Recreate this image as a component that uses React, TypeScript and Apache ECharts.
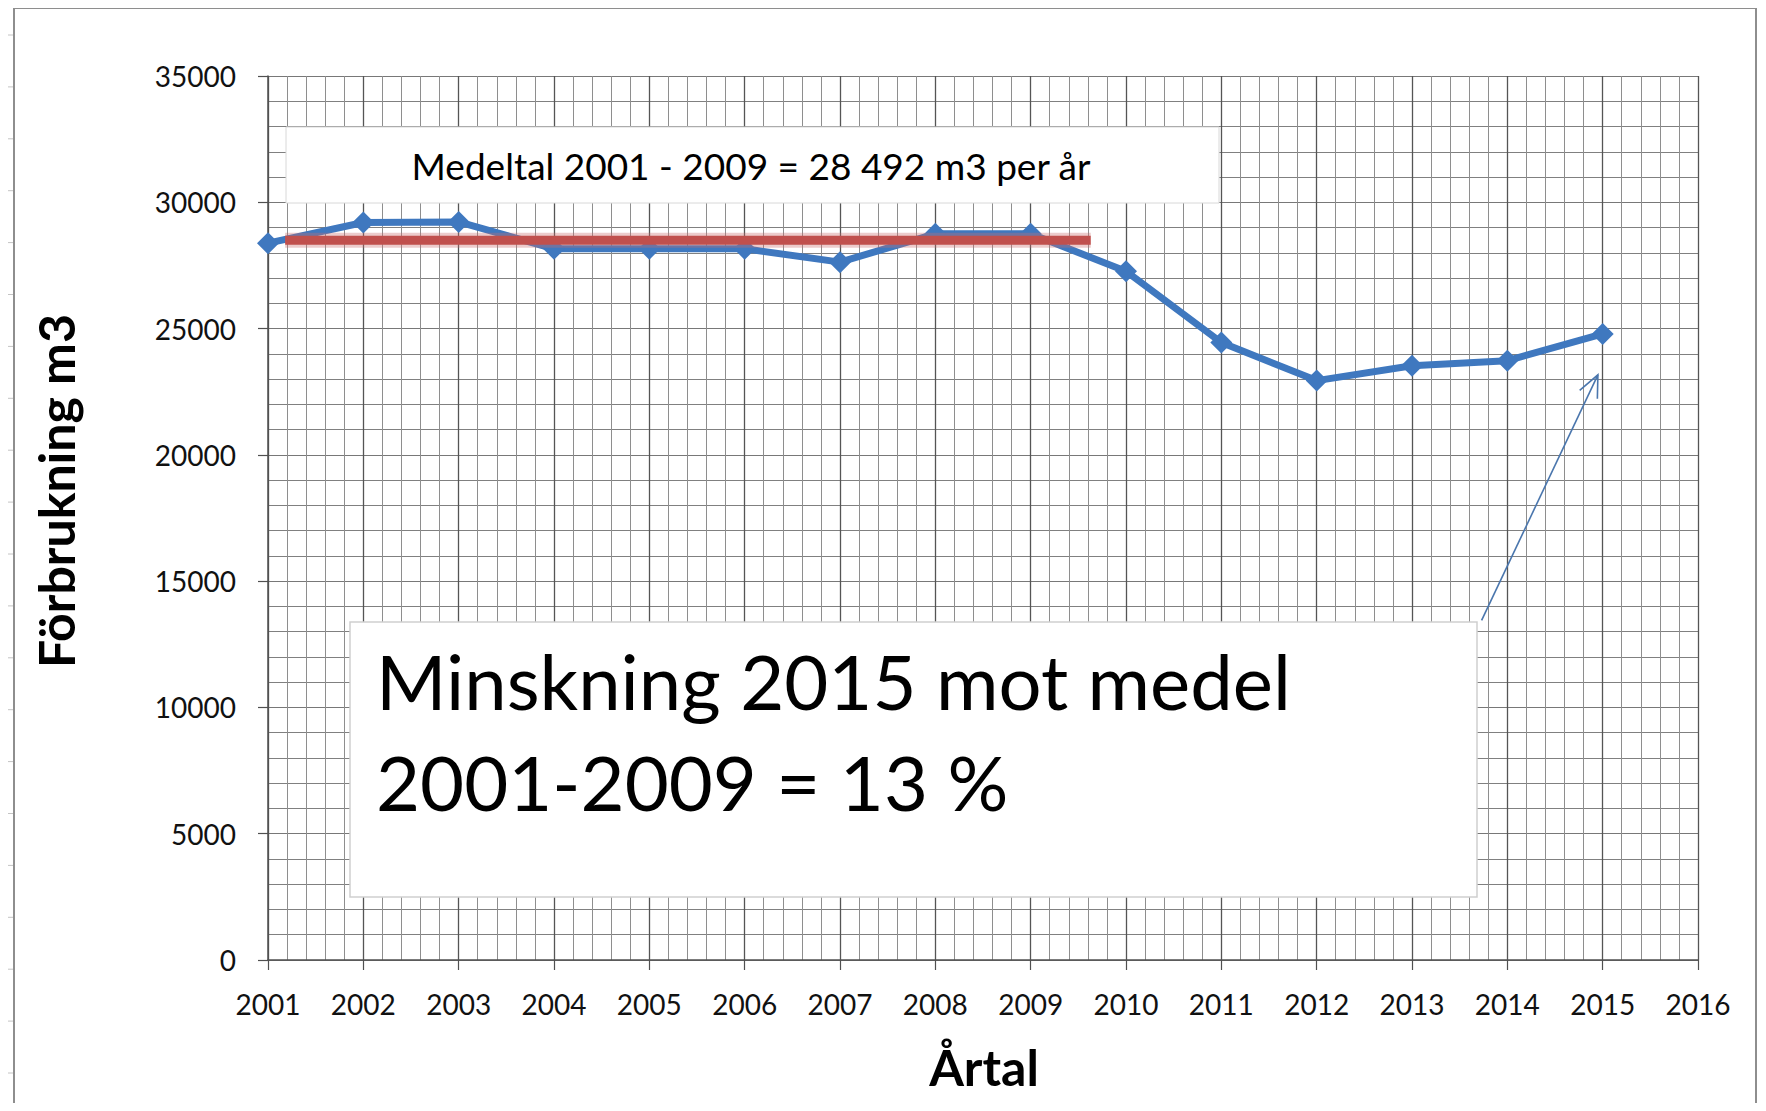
import React, { useEffect, useRef } from "react";
import * as echarts from "echarts";

const years = [2001, 2002, 2003, 2004, 2005, 2006, 2007, 2008, 2009, 2010, 2011, 2012, 2013, 2014, 2015];
const consumption = [28380, 29200, 29220, 28160, 28160, 28160, 27630, 28750, 28750, 27270, 24450, 22940, 23530, 23730, 24790];
const meanValue = 28492;
const meanStartYear = 2001.18;
const meanEndYear = 2009.63;
const arrowFrom = [2013.73, 13450];
const arrowTo = [2014.95, 23170];
const xMin = 2001;
const xMax = 2016;
const yMin = 0;
const yMax = 35000;
const yStep = 5000;

const meanText = "Medeltal 2001 - 2009 = 28 492 m3 per år";
const bigTextLines = ["Minskning 2015 mot medel", "2001-2009 = 13 %"];
const yTitle = "Förbrukning m3";
const xTitle = "Årtal";

const FONT = "Lato, 'Open Sans', sans-serif";

export default function App() {
  const ref = useRef<HTMLDivElement>(null);
  useEffect(() => {
    if (!ref.current) return;
    const chart = echarts.init(ref.current, null, { renderer: "svg" });

    const frame: any[] = [];
    for (let k = 0; k < 11; k++) {
      const x = 122 + k * 165.4;
      frame.push({ type: "line", shape: { x1: x, y1: 0, x2: x, y2: 8 }, style: { stroke: "#c4c4c4", lineWidth: 1 }, z: 1 });
    }
    for (let k = 0; k < 22; k++) {
      const y = 35 + k * 51.9;
      frame.push({ type: "line", shape: { x1: 0, y1: y, x2: 13, y2: y }, style: { stroke: "#c4c4c4", lineWidth: 1 }, z: 1 });
      frame.push({ type: "line", shape: { x1: 1758, y1: y, x2: 1766, y2: y }, style: { stroke: "#c4c4c4", lineWidth: 1 }, z: 1 });
    }
    frame.push({
      type: "rect",
      shape: { x: 14, y: 8, width: 1742, height: 1120 },
      style: { fill: "none", stroke: "#8e8e8e", lineWidth: 2 },
      z: 1,
    });

    const texts: any[] = [
      {
        type: "rect",
        shape: { x: 286, y: 127, width: 933, height: 76 },
        style: { fill: "#ffffff", stroke: "#d8d8d8", lineWidth: 1 },
        z: 50,
      },
      {
        type: "text",
        x: 751,
        y: 165,
        style: { text: meanText, font: `37px ${FONT}`, fill: "#000", textAlign: "center", textVerticalAlign: "middle" },
        z: 51,
      },
      {
        type: "rect",
        shape: { x: 350, y: 622, width: 1127, height: 275 },
        style: { fill: "#ffffff", stroke: "#cfcfcf", lineWidth: 1.5 },
        z: 50,
      },
      {
        type: "text",
        x: 376,
        y: 680,
        style: { text: bigTextLines[0], font: `76px ${FONT}`, fill: "#000", textAlign: "left", textVerticalAlign: "middle" },
        z: 51,
      },
      {
        type: "text",
        x: 376,
        y: 781,
        style: { text: bigTextLines[1], font: `76px ${FONT}`, fill: "#000", textAlign: "left", textVerticalAlign: "middle" },
        z: 51,
      },
      {
        type: "text",
        x: 56,
        y: 491,
        rotation: Math.PI / 2,
        style: { text: yTitle, font: `bold 50px ${FONT}`, fill: "#000", textAlign: "center", textVerticalAlign: "middle" },
        z: 51,
      },
      {
        type: "text",
        x: 984,
        y: 1067,
        style: { text: xTitle, font: `bold 50px ${FONT}`, fill: "#000", textAlign: "center", textVerticalAlign: "middle" },
        z: 51,
      },
    ];

    const option: any = {
      animation: false,
      backgroundColor: "#ffffff",
      grid: { left: 268, right: 68, top: 76, bottom: 151, containLabel: false },
      xAxis: {
        type: "value",
        min: xMin,
        max: xMax,
        interval: 1,
        axisLine: { show: true, lineStyle: { color: "#505050", width: 1.5 } },
        axisTick: { show: true, length: 10, lineStyle: { color: "#505050", width: 1.2 } },
        axisLabel: { fontFamily: FONT, fontSize: 28, color: "#111", margin: 30, formatter: (v: number) => String(v) },
        splitLine: { show: true, lineStyle: { color: "#555555", width: 1.3 } },
        minorTick: { show: false, splitNumber: 5 },
        minorSplitLine: { show: true, lineStyle: { color: "#8e8e8e", width: 1 } },
      },
      yAxis: {
        type: "value",
        min: yMin,
        max: yMax,
        interval: yStep,
        axisLine: { show: true, lineStyle: { color: "#505050", width: 1.5 } },
        axisTick: { show: true, length: 10, lineStyle: { color: "#505050", width: 1.2 } },
        axisLabel: { fontFamily: FONT, fontSize: 28, color: "#111", margin: 32, formatter: (v: number) => String(v) },
        splitLine: { show: true, lineStyle: { color: "#787878", width: 1.2 } },
        minorTick: { show: false, splitNumber: 5 },
        minorSplitLine: { show: true, lineStyle: { color: "#808080", width: 1.1 } },
      },
      series: [
        {
          type: "line",
          name: "Förbrukning",
          data: years.map((y, i) => [y, consumption[i]]),
          symbol: "diamond",
          symbolSize: 22,
          lineStyle: { color: "#3f78bf", width: 7 },
          itemStyle: { color: "#3f78bf" },
          z: 3,
        },
        {
          type: "line",
          name: "Medel skugga",
          data: [
            [meanStartYear, meanValue],
            [meanEndYear, meanValue],
          ],
          symbol: "none",
          lineStyle: { color: "rgba(200,110,110,0.35)", width: 15 },
          z: 4,
        },
        {
          type: "line",
          name: "Medel",
          data: [
            [meanStartYear, meanValue],
            [meanEndYear, meanValue],
          ],
          symbol: "none",
          lineStyle: { color: "#c0504d", width: 9 },
          z: 5,
        },
      ],
      graphic: { elements: [...frame, ...texts] },
    };
    chart.setOption(option);

    const p0 = chart.convertToPixel({ gridIndex: 0 }, arrowFrom) as number[];
    const p1 = chart.convertToPixel({ gridIndex: 0 }, arrowTo) as number[];
    const ang = Math.atan2(p1[1] - p0[1], p1[0] - p0[0]);
    const head = 24;
    const spread = 0.42;
    const h1 = [p1[0] - head * Math.cos(ang - spread), p1[1] - head * Math.sin(ang - spread)];
    const h2 = [p1[0] - head * Math.cos(ang + spread), p1[1] - head * Math.sin(ang + spread)];
    const arrow = [
      { type: "line", shape: { x1: p0[0], y1: p0[1], x2: p1[0], y2: p1[1] }, style: { stroke: "#4a76ad", lineWidth: 1.6 }, z: 60 },
      { type: "polyline", shape: { points: [h1, p1, h2] }, style: { stroke: "#4a76ad", lineWidth: 1.6, fill: "none" }, z: 60 },
    ];
    chart.setOption({ graphic: { elements: [...frame, ...texts, ...arrow] } }, { replaceMerge: ["graphic"] });

    return () => chart.dispose();
  }, []);
  return <div ref={ref} style={{ width: 1766, height: 1111, margin: -8 }} />;
}
